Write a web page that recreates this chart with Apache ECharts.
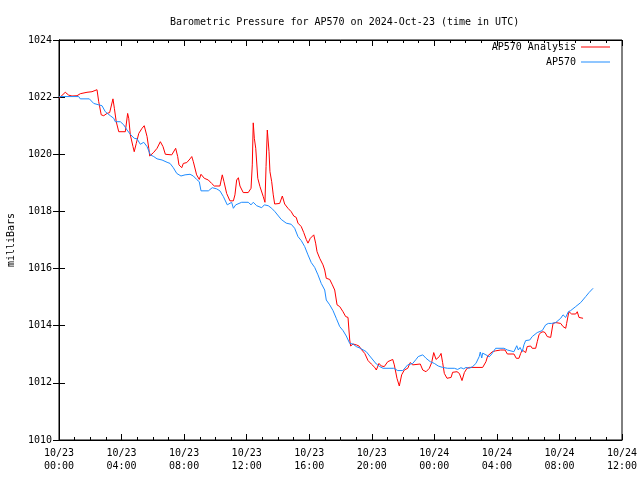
<!DOCTYPE html>
<html><head><meta charset="utf-8">
<script src="https://cdn.jsdelivr.net/npm/echarts@6/dist/echarts.min.js"></script>
<style>html,body{margin:0;padding:0;background:#fff}#c{width:640px;height:480px}</style>
</head><body><div id="c"></div>
<script>
// hours since 2024-10-23 00:00 UTC
const analysisHours = [0,0.40,0.62,0.83,1.15,1.36,1.79,2.11,2.43,2.54,2.70,2.86,3.07,3.24,3.45,3.54,3.66,3.82,4.24,4.39,4.46,4.56,4.73,4.81,4.94,5.10,5.31,5.45,5.63,5.74,5.80,6.06,6.27,6.48,6.65,6.80,6.91,7.21,7.31,7.46,7.59,7.67,7.85,7.95,8.17,8.38,8.49,8.59,8.80,8.97,9.08,9.29,9.55,9.76,9.93,10.29,10.44,10.55,10.72,10.93,11.15,11.25,11.36,11.47,11.57,11.78,12.10,12.28,12.36,12.42,12.49,12.58,12.71,12.85,13.06,13.17,13.24,13.32,13.43,13.49,13.60,13.70,13.79,14.11,14.28,14.43,14.64,14.85,15.01,15.17,15.28,15.49,15.65,15.81,15.92,16.07,16.29,16.41,16.50,16.67,16.88,16.99,17.09,17.31,17.48,17.63,17.78,17.95,18.16,18.33,18.48,18.54,18.59,18.65,18.80,19.01,19.18,19.33,19.55,19.76,19.97,20.19,20.29,20.46,20.61,20.80,21.02,21.34,21.44,21.61,21.76,21.91,22.08,22.30,22.46,22.62,22.72,23.10,23.26,23.47,23.68,23.83,23.96,24.11,24.32,24.43,24.53,24.64,24.81,25.07,25.17,25.45,25.60,25.77,25.92,26.09,26.24,27.09,27.30,27.41,27.51,27.71,27.92,28.24,28.52,28.67,29.09,29.24,29.41,29.52,29.62,29.73,29.84,29.94,30.16,30.26,30.48,30.58,30.69,30.80,30.95,31.08,31.22,31.44,31.59,31.76,32.08,32.23,32.40,32.46,32.55,32.61,32.72,32.78,33.04,33.14,33.25,33.36,33.51];
const analysisValues = [1021.96,1022.17,1022.07,1022.04,1022.05,1022.12,1022.17,1022.19,1022.26,1021.84,1021.38,1021.35,1021.43,1021.46,1021.94,1021.61,1021.14,1020.79,1020.79,1021.43,1021.26,1020.68,1020.27,1020.09,1020.38,1020.73,1020.91,1021.00,1020.62,1020.21,1019.94,1020.07,1020.21,1020.44,1020.27,1020.00,1019.95,1019.98,1019.92,1020.21,1019.92,1019.63,1019.53,1019.68,1019.71,1019.84,1019.92,1019.74,1019.28,1019.12,1019.30,1019.16,1019.10,1018.98,1018.89,1018.89,1019.28,1019.04,1018.63,1018.37,1018.37,1018.58,1019.10,1019.18,1018.89,1018.66,1018.66,1018.81,1019.63,1021.10,1020.56,1020.21,1019.16,1018.87,1018.52,1018.32,1019.57,1020.85,1020.09,1019.39,1019.04,1018.58,1018.26,1018.28,1018.54,1018.26,1018.11,1017.99,1017.84,1017.79,1017.59,1017.47,1017.26,1017.02,1016.89,1017.06,1017.18,1016.89,1016.59,1016.36,1016.13,1015.95,1015.66,1015.62,1015.43,1015.25,1014.73,1014.67,1014.49,1014.32,1014.29,1013.85,1013.50,1013.29,1013.36,1013.33,1013.29,1013.17,1013.03,1012.78,1012.66,1012.54,1012.45,1012.68,1012.59,1012.57,1012.74,1012.82,1012.63,1012.16,1011.89,1012.28,1012.45,1012.51,1012.71,1012.63,1012.66,1012.66,1012.45,1012.39,1012.51,1012.71,1013.06,1012.82,1012.92,1013.03,1012.71,1012.33,1012.16,1012.19,1012.37,1012.39,1012.33,1012.08,1012.36,1012.51,1012.54,1012.54,1012.74,1012.94,1012.98,1013.09,1013.12,1013.15,1013.15,1013.01,1013.01,1012.86,1012.86,1013.03,1013.15,1013.13,1013.06,1013.27,1013.29,1013.21,1013.21,1013.44,1013.68,1013.76,1013.79,1013.76,1013.62,1013.59,1014.08,1014.11,1014.08,1013.97,1013.91,1014.08,1014.34,1014.49,1014.49,1014.41,1014.41,1014.49,1014.29,1014.26,1014.26];
const stationHours = [0,1.26,1.36,1.94,2.22,2.54,2.75,2.96,3.07,3.28,3.50,3.60,3.92,4.14,4.35,4.56,4.81,4.99,5.20,5.42,5.63,5.84,6.06,6.27,6.59,6.91,7.10,7.31,7.53,7.80,8.06,8.38,8.59,8.80,8.97,9.08,9.55,9.80,10.08,10.29,10.51,10.76,10.87,11.04,11.15,11.30,11.68,12.10,12.28,12.42,12.64,12.96,13.13,13.38,13.60,13.81,13.89,14.21,14.53,14.85,15.07,15.28,15.49,15.71,15.92,16.13,16.35,16.56,16.77,16.99,17.09,17.31,17.52,17.73,17.95,18.16,18.37,18.59,18.80,19.01,19.27,19.65,19.87,20.08,20.29,20.51,20.72,21.40,21.66,21.98,22.30,22.62,22.83,22.97,23.26,23.47,23.74,24.00,24.25,24.53,24.85,25.28,25.49,25.70,25.88,26.02,26.24,26.45,26.66,26.87,26.94,27.03,27.09,27.30,27.51,27.67,27.92,28.45,28.67,29.09,29.27,29.37,29.48,29.62,29.73,29.84,30.10,30.26,30.58,30.90,31.12,31.29,31.50,31.76,32.08,32.23,32.40,32.57,32.72,33.04,33.36,33.68,33.89,34.15];
const stationValues = [1022.02,1022.02,1021.94,1021.94,1021.78,1021.73,1021.70,1021.49,1021.46,1021.35,1021.26,1021.14,1021.14,1021.03,1020.85,1020.70,1020.56,1020.54,1020.35,1020.42,1020.27,1019.98,1019.92,1019.84,1019.80,1019.72,1019.68,1019.53,1019.33,1019.24,1019.28,1019.30,1019.24,1019.12,1019.04,1018.72,1018.72,1018.83,1018.79,1018.72,1018.52,1018.23,1018.28,1018.32,1018.11,1018.23,1018.32,1018.32,1018.23,1018.32,1018.20,1018.13,1018.23,1018.20,1018.11,1017.99,1017.96,1017.72,1017.59,1017.55,1017.41,1017.12,1016.98,1016.77,1016.48,1016.21,1016.04,1015.78,1015.48,1015.25,1014.90,1014.73,1014.53,1014.26,1013.97,1013.83,1013.64,1013.38,1013.36,1013.27,1013.21,1013.09,1012.94,1012.80,1012.66,1012.57,1012.51,1012.51,1012.43,1012.43,1012.63,1012.68,1012.82,1012.92,1012.98,1012.86,1012.74,1012.68,1012.59,1012.54,1012.51,1012.51,1012.47,1012.53,1012.49,1012.54,1012.51,1012.57,1012.68,1012.92,1013.08,1012.87,1013.04,1012.98,1012.91,1013.01,1013.21,1013.21,1013.15,1013.09,1013.30,1013.15,1013.24,1013.09,1013.33,1013.48,1013.50,1013.62,1013.76,1013.83,1014.03,1014.08,1014.08,1014.11,1014.26,1014.38,1014.29,1014.49,1014.53,1014.67,1014.81,1015.02,1015.16,1015.31];
const xTickLabels = {0:'10/23\n00:00',4:'10/23\n04:00',8:'10/23\n08:00',12:'10/23\n12:00',16:'10/23\n16:00',20:'10/23\n20:00',24:'10/24\n00:00',28:'10/24\n04:00',32:'10/24\n08:00',36:'10/24\n12:00'};
const titleText = 'Barometric Pressure for AP570 on 2024-Oct-23 (time in UTC)';
const seriesNames = ['AP570 Analysis','AP570'];

const mono = 'DejaVu Sans Mono';
const zip = (a,b)=>a.map((x,i)=>[x,b[i]]);
const tickStyle = {show:true, inside:true, length:6, lineStyle:{color:'#000',width:1}};
const minorStyle = {show:true, splitNumber:4, length:3, lineStyle:{color:'#000',width:1}};
const chart = echarts.init(document.getElementById('c'), null, {renderer:'canvas'});
chart.setOption({
  animation:false,
  backgroundColor:'#fff',
  title:{text:titleText, left:165, top:12, textStyle:{fontFamily:mono, fontSize:10, fontWeight:'normal', color:'#000'}},
  grid:{left:59, right:18, top:40, bottom:40, show:true, borderColor:'#000', borderWidth:1, containLabel:false, outerBoundsMode:'none'},
  legend:[
    {data:[seriesNames[0]], right:30, top:42, align:'right', icon:'rect', itemWidth:29, itemHeight:1, itemGap:0, padding:0,
     textStyle:{fontFamily:mono, fontSize:10, color:'#000'}},
    {data:[seriesNames[1]], right:30, top:57, align:'right', icon:'rect', itemWidth:29, itemHeight:1, itemGap:0, padding:0,
     textStyle:{fontFamily:mono, fontSize:10, color:'#000'}}
  ],
  xAxis:[
    {type:'value', min:0, max:36, interval:4, position:'bottom',
     axisLine:{show:true, lineStyle:{color:'#000'}}, axisTick:tickStyle, minorTick:minorStyle,
     splitLine:{show:false},
     axisLabel:{fontFamily:mono, fontSize:10, color:'#000', lineHeight:13, margin:7, formatter:v=>xTickLabels[v]||''}},
    {type:'value', min:0, max:36, interval:4, position:'top',
     axisLine:{show:true, lineStyle:{color:'#000'}}, axisTick:tickStyle, minorTick:minorStyle,
     splitLine:{show:false}, axisLabel:{show:false}}
  ],
  yAxis:[
    {type:'value', min:1010, max:1024, interval:2, position:'left',
     name:'milliBars', nameLocation:'middle', nameRotate:90, nameGap:43,
     nameTextStyle:{fontFamily:mono, fontSize:10, color:'#000'},
     axisLine:{show:true, lineStyle:{color:'#000'}}, axisTick:tickStyle, splitLine:{show:false},
     axisLabel:{fontFamily:mono, fontSize:10, color:'#000', margin:7, formatter:v=>String(v)}},
    {type:'value', min:1010, max:1024, interval:2, position:'right',
     axisLine:{show:true, lineStyle:{color:'#000'}}, axisTick:tickStyle, splitLine:{show:false},
     axisLabel:{show:false}}
  ],
  series:[
    {name:seriesNames[0], type:'line', data:zip(analysisHours, analysisValues), showSymbol:false, symbol:'none',
     lineStyle:{color:'#ff0000', width:1}, itemStyle:{color:'#ff0000'}},
    {name:seriesNames[1], type:'line', data:zip(stationHours, stationValues), showSymbol:false, symbol:'none',
     lineStyle:{color:'#1e8cff', width:1}, itemStyle:{color:'#1e8cff'}}
  ]
});
</script></body></html>
